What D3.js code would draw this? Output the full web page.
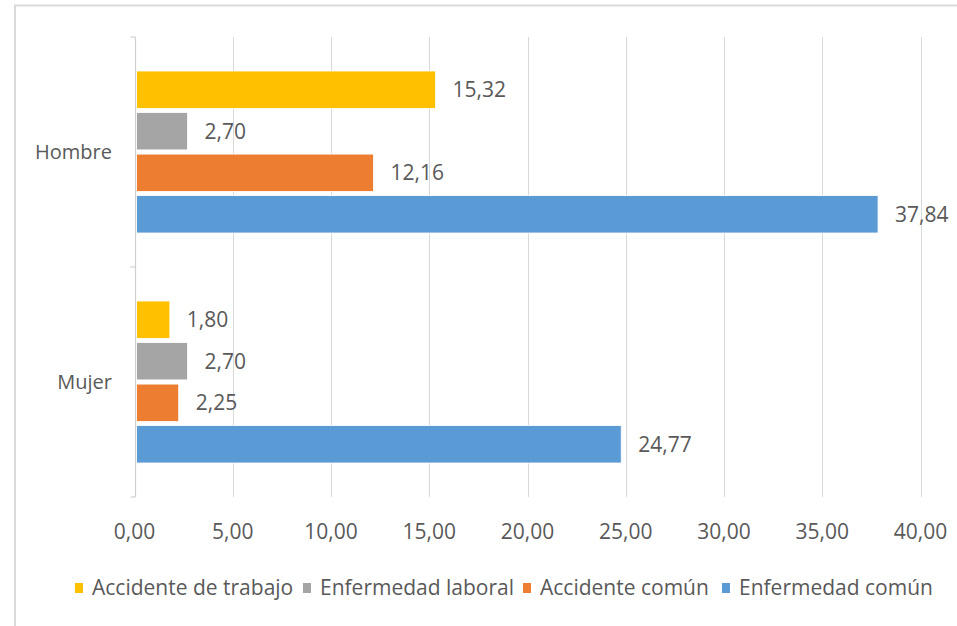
<!DOCTYPE html>
<html>
<head>
<meta charset="utf-8">
<script src="https://cdn.jsdelivr.net/npm/d3@7"></script>
<style>
  html, body { margin: 0; padding: 0; background: #fff; }
  svg { display: block; }
  text { font-family: "Open Sans", sans-serif; fill: #595959; }
</style>
</head>
<body>
<svg id="chart" width="957" height="626"></svg>
<script>
const categories = ["Hombre", "Mujer"];
const seriesNames = ["Accidente de trabajo", "Enfermedad laboral", "Accidente común", "Enfermedad común"];
const seriesColors = ["#FFC000", "#A5A5A5", "#ED7D31", "#5B9BD5"];
const hombreValues = [15.32, 2.70, 12.16, 37.84];
const mujerValues = [1.80, 2.70, 2.25, 24.77];
const xTicks = [0, 5, 10, 15, 20, 25, 30, 35, 40];

const valuesByCategory = { "Hombre": hombreValues, "Mujer": mujerValues };
const rows = [];
categories.forEach(c => seriesNames.forEach((s, i) => rows.push({ cat: c, series: s, idx: i, value: valuesByCategory[c][i] })));

const svg = d3.select("#chart");
const locale = d3.formatLocale({ decimal: ",", thousands: ".", grouping: [3], currency: ["", ""] });
const fmt = locale.format(".2f");

// chart border
svg.append("rect").attr("x", 15).attr("y", 5.5).attr("width", 960).attr("height", 640)
  .attr("fill", "none").attr("stroke", "#d9d9d9").attr("stroke-width", 2);

const plot = { left: 134.5, right: 920.5, top: 37, bottom: 497 };
const x = d3.scaleLinear().domain([0, 40]).range([plot.left, plot.right]);
const y0 = d3.scaleBand().domain(categories).range([plot.top, plot.bottom]).paddingInner(0).paddingOuter(0);
const groupPad = 34;
const y1 = d3.scaleBand().domain(seriesNames).range([groupPad, y0.bandwidth() - groupPad]).paddingInner(0.1).paddingOuter(0);

// gridlines
svg.append("g").selectAll("line").data(xTicks.filter(d => d > 0)).join("line")
  .attr("x1", d => Math.round(x(d)) + 0.5).attr("x2", d => Math.round(x(d)) + 0.5)
  .attr("y1", plot.top).attr("y2", plot.bottom)
  .attr("stroke", "#d9d9d9").attr("stroke-width", 1);

// category axis line + ticks
const axisG = svg.append("g");
axisG.append("line").attr("x1", 135.5).attr("x2", 135.5).attr("y1", plot.top).attr("y2", plot.bottom)
  .attr("stroke", "#d0d0d0").attr("stroke-width", 1.2);
const catTicks = [plot.top, ...categories.map(c => y0(c) + y0.bandwidth())];
axisG.selectAll("line.tk").data(catTicks).join("line").attr("class", "tk")
  .attr("x1", 130.5).attr("x2", 135.5).attr("y1", d => d).attr("y2", d => d)
  .attr("stroke", "#d0d0d0").attr("stroke-width", 1.2);

// bars
svg.append("g").selectAll("rect").data(rows).join("rect")
  .attr("x", x(0) + 2)
  .attr("y", d => y0(d.cat) + y1(d.series))
  .attr("width", d => x(d.value) - x(0) - 2)
  .attr("height", y1.bandwidth())
  .attr("fill", d => seriesColors[d.idx])
  .attr("stroke", "#ffffff").attr("stroke-width", 0.8);

// data labels
svg.append("g").selectAll("text").data(rows).join("text")
  .attr("x", d => x(d.value) + 17)
  .attr("y", d => y0(d.cat) + y1(d.series) + y1.bandwidth() / 2)
  .attr("dy", "0.35em")
  .attr("font-size", 21)
  .text(d => fmt(d.value));

// category labels
svg.append("g").selectAll("text").data(categories).join("text")
  .attr("x", 112).attr("y", d => y0(d) + y0.bandwidth() / 2)
  .attr("dy", "0.35em").attr("text-anchor", "end").attr("font-size", 20)
  .text(d => d);

// x tick labels
svg.append("g").selectAll("text").data(xTicks).join("text")
  .attr("x", d => x(d)).attr("y", 532).attr("dy", "0.35em")
  .attr("text-anchor", "middle").attr("font-size", 21)
  .text(d => fmt(d));

// legend
const legendX = [75, 303, 523, 722];
const leg = svg.append("g").selectAll("g").data(seriesNames).join("g")
  .attr("transform", (d, i) => `translate(${legendX[i]},588)`);
leg.append("rect").attr("x", 0).attr("y", -5).attr("width", 8).attr("height", 10)
  .attr("fill", (d, i) => seriesColors[i]);
leg.append("text").attr("x", 17).attr("dy", "0.35em").attr("font-size", 21).text(d => d);
</script>
</body>
</html>
